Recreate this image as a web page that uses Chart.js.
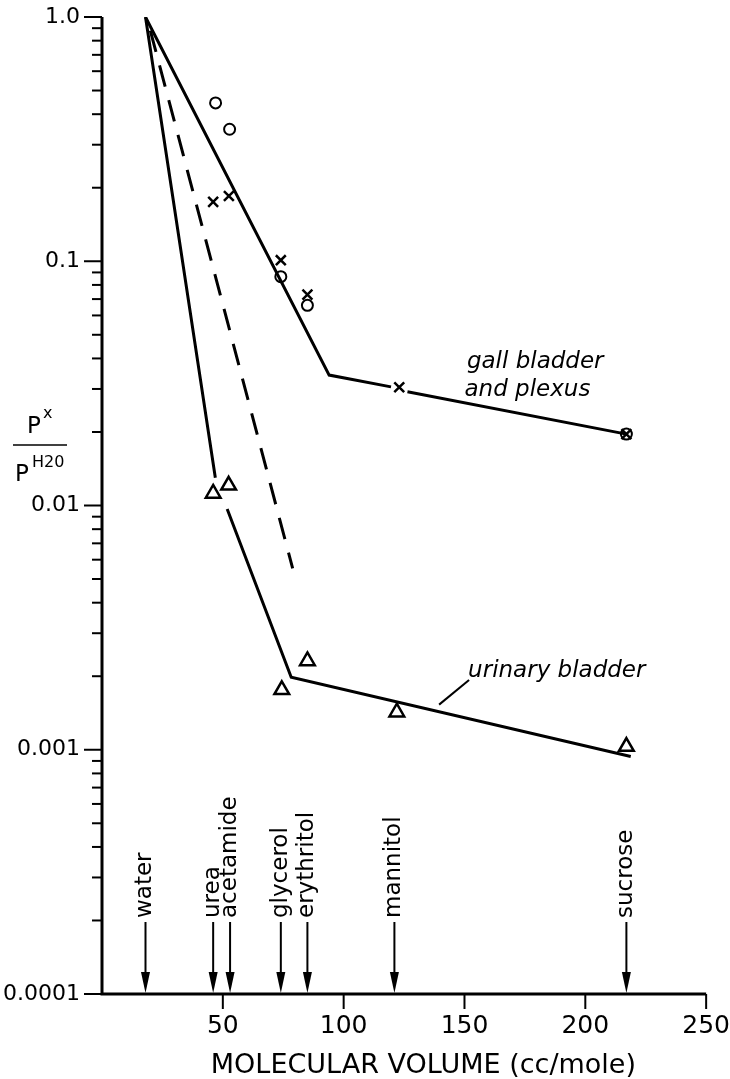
<!DOCTYPE html>
<html lang="en">
<head>
  <meta charset="UTF-8" />
  <title>Relative permeability vs molecular volume</title>
  <script src="https://cdn.jsdelivr.net/npm/chart.js"></script>
  <style>
    html, body { margin: 0; padding: 0; background: #fff; }
  </style>
</head>
<body>
  <canvas id="permChart" width="730" height="1079"></canvas>

  <script>
    // molecules marked with arrows along the x axis
    const moleculeNames = ['water', 'urea', 'acetamide', 'glycerol', 'erythritol', 'mannitol', 'sucrose'];
    const moleculeVolumes = [18, 46, 53, 74, 85, 121, 217];

    // gall bladder and plexus: open circles and crosses
    const gallCircleX = [47, 52.8, 74, 85, 217];
    const gallCircleY = [0.445, 0.347, 0.0865, 0.066, 0.0196];
    const gallCrossX = [46, 52.5, 74, 85, 123, 217];
    const gallCrossY = [0.175, 0.185, 0.101, 0.073, 0.0305, 0.0196];

    // urinary bladder: open triangles
    const urinaryX = [46, 52.4, 74.4, 85, 122, 217];
    const urinaryY = [0.0112, 0.0121, 0.00176, 0.00231, 0.001425, 0.00103];

    // drawn lines (null = break in the line)
    const gallLineX = [18, 94, 119.6, 123, 126.4, 217];
    const gallLineY = [1.0, 0.0342, 0.0306, null, 0.0292, 0.0196];
    const urinaryLineX = [18, 46.9, 49, 51.8, 78.3, 218.8];
    const urinaryLineY = [1.0, 0.0130, null, 0.00968, 0.00198, 0.000938];
    const dashedLineX = [20, 78.9];
    const dashedLineY = [0.88, 0.00553];

    // axis ticks
    const xTickValues = [50, 100, 150, 200, 250];
    const xTickLabels = ['50', '100', '150', '200', '250'];
    const yTickValues = [1, 0.1, 0.01, 0.001, 0.0001];
    const yTickLabels = ['1.0', '0.1', '0.01', '0.001', '0.0001'];

    const FONT = '"DejaVu Sans", "Liberation Sans", sans-serif';

    function toPoints(xs, ys) {
      return xs.map((x, i) => ({ x: x, y: ys[i] }));
    }

    function decadeIndex(v) {
      return yTickValues.findIndex(t => Math.abs(t - v) < t * 1e-6);
    }

    // labels written on the plot, placed in data units
    const notes = [
      { text: 'gall bladder', x: 151, y: 0.0365 },
      { text: 'and plexus', x: 150, y: 0.0281 },
      { text: 'urinary bladder', x: 151.5, y: 0.00199 }
    ];
    const leader = { x1: 139.5, y1: 0.00153, x2: 151.9, y2: 0.00193 };

    const overlay = {
      id: 'overlay',
      afterDraw(chart) {
        const ctx = chart.ctx;
        const a = chart.chartArea;
        const xs = chart.scales.x;
        const ys = chart.scales.y;
        ctx.save();
        ctx.strokeStyle = '#000';
        ctx.fillStyle = '#000';

        // axis lines
        ctx.lineWidth = 3;
        ctx.beginPath();
        ctx.moveTo(a.left, a.top);
        ctx.lineTo(a.left, a.bottom);
        ctx.lineTo(a.right, a.bottom);
        ctx.stroke();

        // y tick marks (long on decades)
        ctx.lineWidth = 2;
        ys.ticks.forEach(t => {
          const py = ys.getPixelForValue(t.value);
          const len = decadeIndex(t.value) >= 0 ? 18 : 10;
          ctx.beginPath();
          ctx.moveTo(a.left - len, py);
          ctx.lineTo(a.left, py);
          ctx.stroke();
        });

        // x tick marks
        xs.ticks.forEach(t => {
          const px = xs.getPixelForValue(t.value);
          ctx.beginPath();
          ctx.moveTo(px, a.bottom);
          ctx.lineTo(px, a.bottom + 15);
          ctx.stroke();
        });

        // molecule arrows with rotated names
        ctx.font = '23px ' + FONT;
        moleculeNames.forEach((name, i) => {
          const px = xs.getPixelForValue(moleculeVolumes[i]);
          const tip = a.bottom - 1;
          const top = a.bottom - 72;
          ctx.lineWidth = 2;
          ctx.beginPath();
          ctx.moveTo(px, top);
          ctx.lineTo(px, tip - 8);
          ctx.stroke();
          ctx.beginPath();
          ctx.moveTo(px, tip);
          ctx.lineTo(px - 4.5, tip - 21);
          ctx.lineTo(px + 4.5, tip - 21);
          ctx.closePath();
          ctx.fill();
          ctx.save();
          ctx.translate(px, top - 4);
          ctx.rotate(-Math.PI / 2);
          ctx.textAlign = 'left';
          ctx.textBaseline = 'middle';
          ctx.fillText(name, 0, 0);
          ctx.restore();
        });

        // curve labels
        ctx.font = 'italic 23px ' + FONT;
        ctx.textAlign = 'left';
        ctx.textBaseline = 'alphabetic';
        notes.forEach(n => {
          ctx.fillText(n.text, xs.getPixelForValue(n.x), ys.getPixelForValue(n.y));
        });
        ctx.lineWidth = 2;
        ctx.beginPath();
        ctx.moveTo(xs.getPixelForValue(leader.x1), ys.getPixelForValue(leader.y1));
        ctx.lineTo(xs.getPixelForValue(leader.x2), ys.getPixelForValue(leader.y2));
        ctx.stroke();

        // x axis title
        ctx.font = '27px ' + FONT;
        ctx.textAlign = 'center';
        ctx.fillText('MOLECULAR VOLUME (cc/mole)', a.left + (a.right - a.left) * 0.532, 1073);

        // y axis title: P^x over P^H20
        ctx.textAlign = 'left';
        ctx.font = '23px ' + FONT;
        ctx.fillText('P', 27, 433);
        ctx.fillText('P', 15, 481);
        ctx.font = '16px ' + FONT;
        ctx.fillText('x', 43, 418);
        ctx.fillText('H20', 32, 467);
        ctx.lineWidth = 1.5;
        ctx.beginPath();
        ctx.moveTo(13, 445);
        ctx.lineTo(67, 445);
        ctx.stroke();

        ctx.restore();
      }
    };

    function createChart() {
      const ctx = document.getElementById('permChart').getContext('2d');
      const lineStyle = {
        showLine: true,
        borderColor: '#000',
        borderWidth: 3,
        pointRadius: 0,
        fill: false,
        tension: 0,
        spanGaps: false,
        borderCapStyle: 'butt',
        borderJoinStyle: 'miter'
      };
      const markStyle = {
        showLine: false,
        borderColor: '#000',
        backgroundColor: 'rgba(0,0,0,0)'
      };
      return new Chart(ctx, {
        type: 'scatter',
        data: {
          datasets: [
            Object.assign({ label: 'gall bladder and plexus', data: toPoints(gallLineX, gallLineY) }, lineStyle),
            Object.assign({ label: 'urinary bladder', data: toPoints(urinaryLineX, urinaryLineY) }, lineStyle),
            Object.assign({ label: 'dashed', data: toPoints(dashedLineX, dashedLineY) }, lineStyle, { borderDash: [22, 14] }),
            Object.assign({ label: 'gall o', data: toPoints(gallCircleX, gallCircleY), pointStyle: 'circle', pointRadius: 5.5, borderWidth: 2 }, markStyle),
            Object.assign({ label: 'gall x', data: toPoints(gallCrossX, gallCrossY), pointStyle: 'crossRot', pointRadius: 7, borderWidth: 2.5 }, markStyle),
            Object.assign({ label: 'urinary', data: toPoints(urinaryX, urinaryY), pointStyle: 'triangle', pointRadius: 8.5, borderWidth: 2.5 }, markStyle)
          ]
        },
        options: {
          responsive: false,
          animation: false,
          events: [],
          devicePixelRatio: 1,
          layout: { padding: { top: 17, right: 23, left: 0, bottom: 0 } },
          plugins: { legend: { display: false }, tooltip: { enabled: false } },
          scales: {
            x: {
              type: 'linear',
              min: 0,
              max: 250,
              // tick marks are drawn by the overlay; tickLength only pushes the labels out
              grid: { display: false, drawTicks: true, tickLength: 17 },
              border: { display: false },
              afterBuildTicks: scale => { scale.ticks = xTickValues.map(v => ({ value: v })); },
              afterFit: scale => { scale.height = 85; },
              ticks: {
                autoSkip: false,
                maxRotation: 0,
                padding: 0,
                color: '#000',
                font: { family: FONT, size: 25 },
                callback: v => {
                  const i = xTickValues.indexOf(v);
                  return i >= 0 ? xTickLabels[i] : '';
                }
              }
            },
            y: {
              type: 'logarithmic',
              min: 0.0001,
              max: 1,
              grid: { display: false, drawTicks: true, tickLength: 22 },
              border: { display: false },
              afterBuildTicks: scale => {
                const t = [];
                for (let e = -4; e < 0; e++) {
                  for (let k = 1; k < 10; k++) t.push({ value: k * Math.pow(10, e) });
                }
                t.push({ value: 1 });
                scale.ticks = t;
              },
              afterFit: scale => { scale.width = 102; },
              ticks: {
                autoSkip: false,
                padding: 0,
                color: '#000',
                font: { family: FONT, size: 22 },
                callback: v => {
                  const i = decadeIndex(v);
                  return i >= 0 ? yTickLabels[i] : '';
                }
              }
            }
          }
        },
        plugins: [overlay]
      });
    }

    createChart();
  </script>
</body>
</html>
